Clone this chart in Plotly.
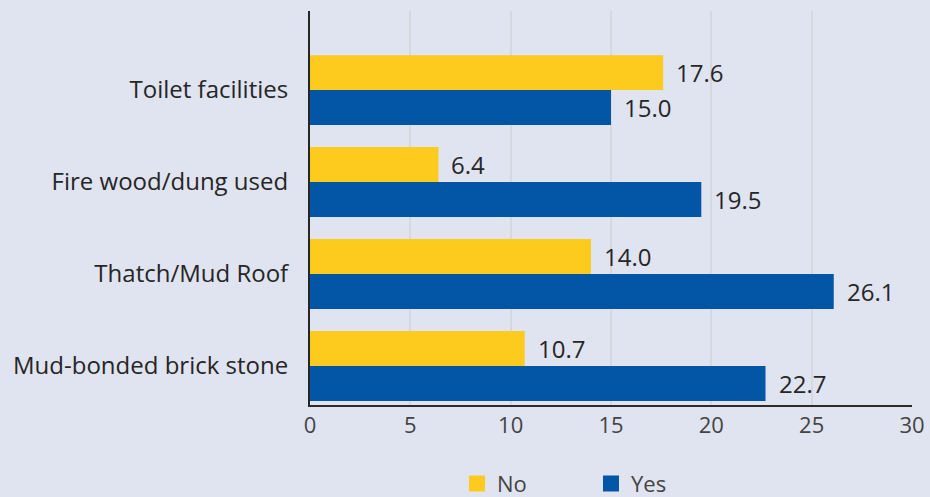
import plotly.graph_objects as go

# Housing characteristics, percentage by group
categories = ["Mud-bonded brick stone", "Thatch/Mud Roof", "Fire wood/dung used", "Toilet facilities"]
no_values = [10.7, 14.0, 6.4, 17.6]
yes_values = [22.7, 26.1, 19.5, 15.0]
x_ticks = [0, 5, 10, 15, 20, 25, 30]

YELLOW = "#fdca1e"
BLUE = "#0355a6"
BG = "#e0e3f0"
FONT = "Open Sans"

fig = go.Figure()

# Horizontal grouped bars: the first trace sits lower in each group
fig.add_trace(go.Bar(y=categories, x=yes_values, orientation="h", name="Yes",
                     marker=dict(color=BLUE, line=dict(width=0)), showlegend=False))
fig.add_trace(go.Bar(y=categories, x=no_values, orientation="h", name="No",
                     marker=dict(color=YELLOW, line=dict(width=0)), showlegend=False))

# Legend entries as square markers
fig.add_trace(go.Scatter(x=[None], y=[None], mode="markers", name="No",
                         marker=dict(symbol="square", size=16, color=YELLOW)))
fig.add_trace(go.Scatter(x=[None], y=[None], mode="markers", name="Yes",
                         marker=dict(symbol="square", size=16, color=BLUE)))

# Value labels just past the bar ends
for cat, v in zip(categories, no_values):
    fig.add_annotation(x=v, y=cat, text=f"{v:.1f}", showarrow=False, xanchor="left",
                       xshift=11, yshift=17.5, font=dict(family=FONT, size=24, color="#262626"))
for cat, v in zip(categories, yes_values):
    fig.add_annotation(x=v, y=cat, text=f"{v:.1f}", showarrow=False, xanchor="left",
                       xshift=11, yshift=-17.5, font=dict(family=FONT, size=24, color="#262626"))

fig.update_layout(
    width=930, height=497,
    margin=dict(l=310, r=18, t=11, b=92, autoexpand=False),
    paper_bgcolor=BG, plot_bgcolor=BG,
    barmode="group", bargap=0.24, bargroupgap=0,
    font=dict(family=FONT, size=24, color="#262626"),
    legend=dict(orientation="h", x=(457 - 310) / 602, y=-0.2, xanchor="left", yanchor="middle",
                entrywidth=89, entrywidthmode="pixels", bgcolor="rgba(0,0,0,0)",
                font=dict(family=FONT, size=22, color="#444444")),
    xaxis=dict(range=[0, 30], tickvals=x_ticks, showgrid=True, gridcolor="#d6d8df", gridwidth=2,
               showline=True, linecolor="#2b2b2b", linewidth=2, zeroline=False,
               tickfont=dict(family=FONT, size=22, color="#444444"), ticks=""),
    yaxis=dict(categoryorder="array", categoryarray=categories, range=[-0.424, 3.86],
               showline=True, linecolor="#262626", linewidth=2, showgrid=False, zeroline=False,
               ticks="", ticklabelstandoff=15,
               tickfont=dict(family=FONT, size=24, color="#262626")),
)

fig.write_html("out.html")
